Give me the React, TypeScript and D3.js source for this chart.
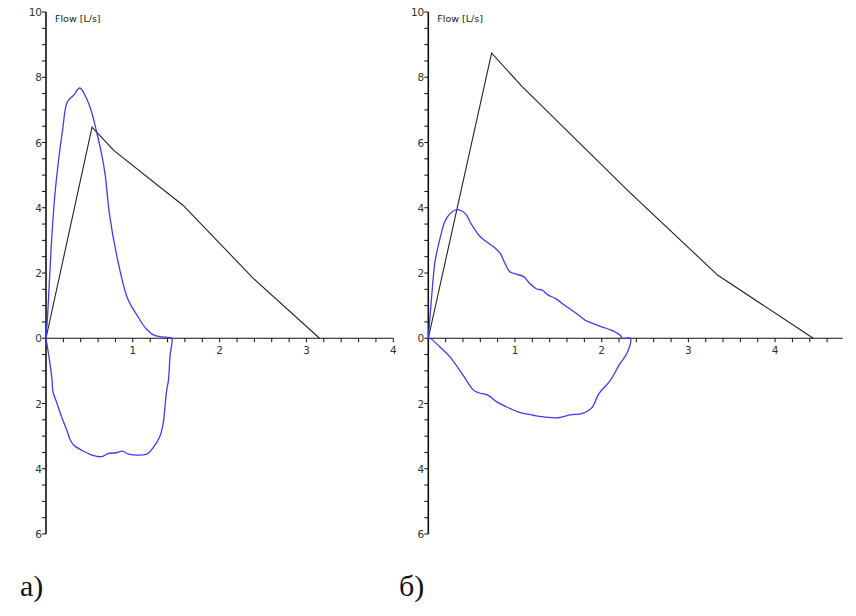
import React from "react";
import * as d3 from "d3";

// ---- Data (volume [L], flow [L/s]) ----
const leftPredX = [0, 0.53, 0.78, 1.58, 2.39, 3.15];
const leftPredY = [0, 6.47, 5.76, 4.07, 1.83, 0];

const leftLoopX = [0, 0.02, 0.06, 0.1, 0.14, 0.19, 0.245, 0.315, 0.39, 0.45, 0.52, 0.58, 0.64, 0.68, 0.73, 0.81, 0.94, 1.06, 1.15, 1.25, 1.42, 1.45,
  1.43, 1.41, 1.39, 1.37, 1.35, 1.31, 1.24, 1.16, 0.95, 0.88, 0.81, 0.72, 0.64, 0.53, 0.41, 0.32, 0.28, 0.24, 0.18, 0.12, 0.08, 0.07, 0.04, 0];
const leftLoopY = [0, 0.76, 2.8, 4.33, 5.35, 6.36, 7.24, 7.44, 7.67, 7.44, 6.98, 6.36, 5.65, 5.04, 3.82, 2.6, 1.22, 0.66, 0.3, 0.09, 0.02, 0,
  -0.5, -1.29, -1.59, -2.1, -2.61, -3.02, -3.33, -3.55, -3.55, -3.46, -3.51, -3.53, -3.63, -3.58, -3.43, -3.28, -3.12, -2.82, -2.41, -1.95, -1.64, -1.29, -0.67, 0];

const rightPredX = [0, 0.73, 1.08, 2.32, 3.34, 4.44];
const rightPredY = [0, 8.74, 7.72, 4.48, 1.93, 0];

const rightLoopX = [0, 0.04, 0.077, 0.135, 0.19, 0.25, 0.33, 0.385, 0.44, 0.48, 0.54, 0.6, 0.67, 0.75, 0.83, 0.885, 0.94, 1.02, 1.1, 1.17, 1.25, 1.31, 1.38, 1.48, 1.54, 1.61, 1.71, 1.81, 1.9, 2.0, 2.11, 2.21, 2.24,
  2.33, 2.29, 2.21, 2.1, 1.97, 1.88, 1.77, 1.65, 1.48, 1.33, 1.21, 1.06, 0.9, 0.79, 0.69, 0.58, 0.52, 0.44, 0.25, 0.135, 0.02, 0];
const rightLoopY = [0, 1.32, 2.34, 3.06, 3.57, 3.82, 3.94, 3.9, 3.78, 3.57, 3.32, 3.11, 2.96, 2.81, 2.6, 2.29, 2.04, 1.96, 1.89, 1.68, 1.51, 1.48, 1.33, 1.2, 1.07, 0.94, 0.76, 0.55, 0.45, 0.35, 0.25, 0.1, 0,
  0, -0.47, -0.78, -1.29, -1.69, -2.15, -2.31, -2.34, -2.44, -2.41, -2.36, -2.28, -2.1, -1.95, -1.75, -1.67, -1.59, -1.29, -0.57, -0.27, 0, 0];

const yTickLabels = [10, 8, 6, 4, 2, 0, -2, -4, -6];
const leftXTicks = [1, 2, 3, 4];
const rightXTicks = [1, 2, 3, 4];
const axisTitle = "Flow [L/s]";
const panelCaptions = ["а)", "б)"];

type PanelProps = {
  x0: number; x1: number; xMax: number; lastMinor: number;
  predX: number[]; predY: number[]; loopX: number[]; loopY: number[]; xTicks: number[];
};

function Panel({ x0, x1, xMax, lastMinor, predX, predY, loopX, loopY, xTicks }: PanelProps) {
  const x = d3.scaleLinear().domain([0, xMax]).range([x0, x1]);
  const y = d3.scaleLinear().domain([-6, 10]).range([534, 12]);
  const line = d3.line<[number, number]>().x(d => x(d[0])).y(d => y(d[1]));
  const pred = predX.map((v, i) => [v, predY[i]] as [number, number]);
  const loop = loopX.map((v, i) => [v, loopY[i]] as [number, number]);
  const yMinor = d3.range(-6, 10.01, 0.5);
  const xMinor = d3.range(0.2, lastMinor + 0.01, 0.2);
  const axisColor = "#111";
  const textColor = "#333";
  return (
    <g>
      {/* x axis */}
      <line x1={x(0)} x2={x1} y1={y(0)} y2={y(0)} stroke={axisColor} strokeWidth={1.2} />
      {xMinor.map((t, i) => (
        <line key={"xm" + i} x1={x(t)} x2={x(t)} y1={y(0)} y2={y(0) + 4} stroke={axisColor} strokeWidth={1} />
      ))}
      {xTicks.map(t => (
        <text key={"xt" + t} x={x(t)} y={y(0) + 16} textAnchor="middle" fontFamily="DejaVu Sans, sans-serif" fontSize={10.5} fill={textColor}>{t}</text>
      ))}
      {/* y axis */}
      <line x1={x(0)} x2={x(0)} y1={y(10)} y2={y(-6)} stroke={axisColor} strokeWidth={1.6} />
      {yMinor.map((t, i) => (
        <line key={"ym" + i} x1={x(0) - 4} x2={x(0)} y1={y(t)} y2={y(t)} stroke={axisColor} strokeWidth={1} />
      ))}
      {yTickLabels.map(t => (
        <text key={"yt" + t} x={x(0) - 4} y={y(t) + 4} textAnchor="end" fontFamily="DejaVu Sans, sans-serif" fontSize={10.5} fill={textColor}>{Math.abs(t)}</text>
      ))}
      <text x={x(0) + 9} y={22} fontFamily="DejaVu Sans, sans-serif" fontSize={9.5} fill="#222">{axisTitle}</text>
      {/* curves */}
      <path d={line(pred) || ""} fill="none" stroke="#222" strokeWidth={1.1} />
      <path d={d3.line<[number, number]>().x(d => x(d[0])).y(d => y(d[1])).curve(d3.curveCatmullRom)(loop) || ""} fill="none" stroke="#3c3cf8" strokeWidth={1.3} />
    </g>
  );
}

export default function App() {
  return (
    <svg width={856} height={616} style={{ position: "absolute", left: 0, top: 0, background: "#fff" }}>
      <rect x={0} y={0} width={856} height={616} fill="#fff" />
      <Panel x0={46} x1={393.3} xMax={4} lastMinor={4} predX={leftPredX} predY={leftPredY} loopX={leftLoopX} loopY={leftLoopY} xTicks={leftXTicks} />
      <Panel x0={428.3} x1={842.7} xMax={4.78} lastMinor={4.6} predX={rightPredX} predY={rightPredY} loopX={rightLoopX} loopY={rightLoopY} xTicks={rightXTicks} />
      <text x={20} y={596} fontFamily="Liberation Serif, serif" fontSize={30} fill="#111">{panelCaptions[0]}</text>
      <text x={399} y={596} fontFamily="Liberation Serif, serif" fontSize={30} fill="#111">{panelCaptions[1]}</text>
    </svg>
  );
}
